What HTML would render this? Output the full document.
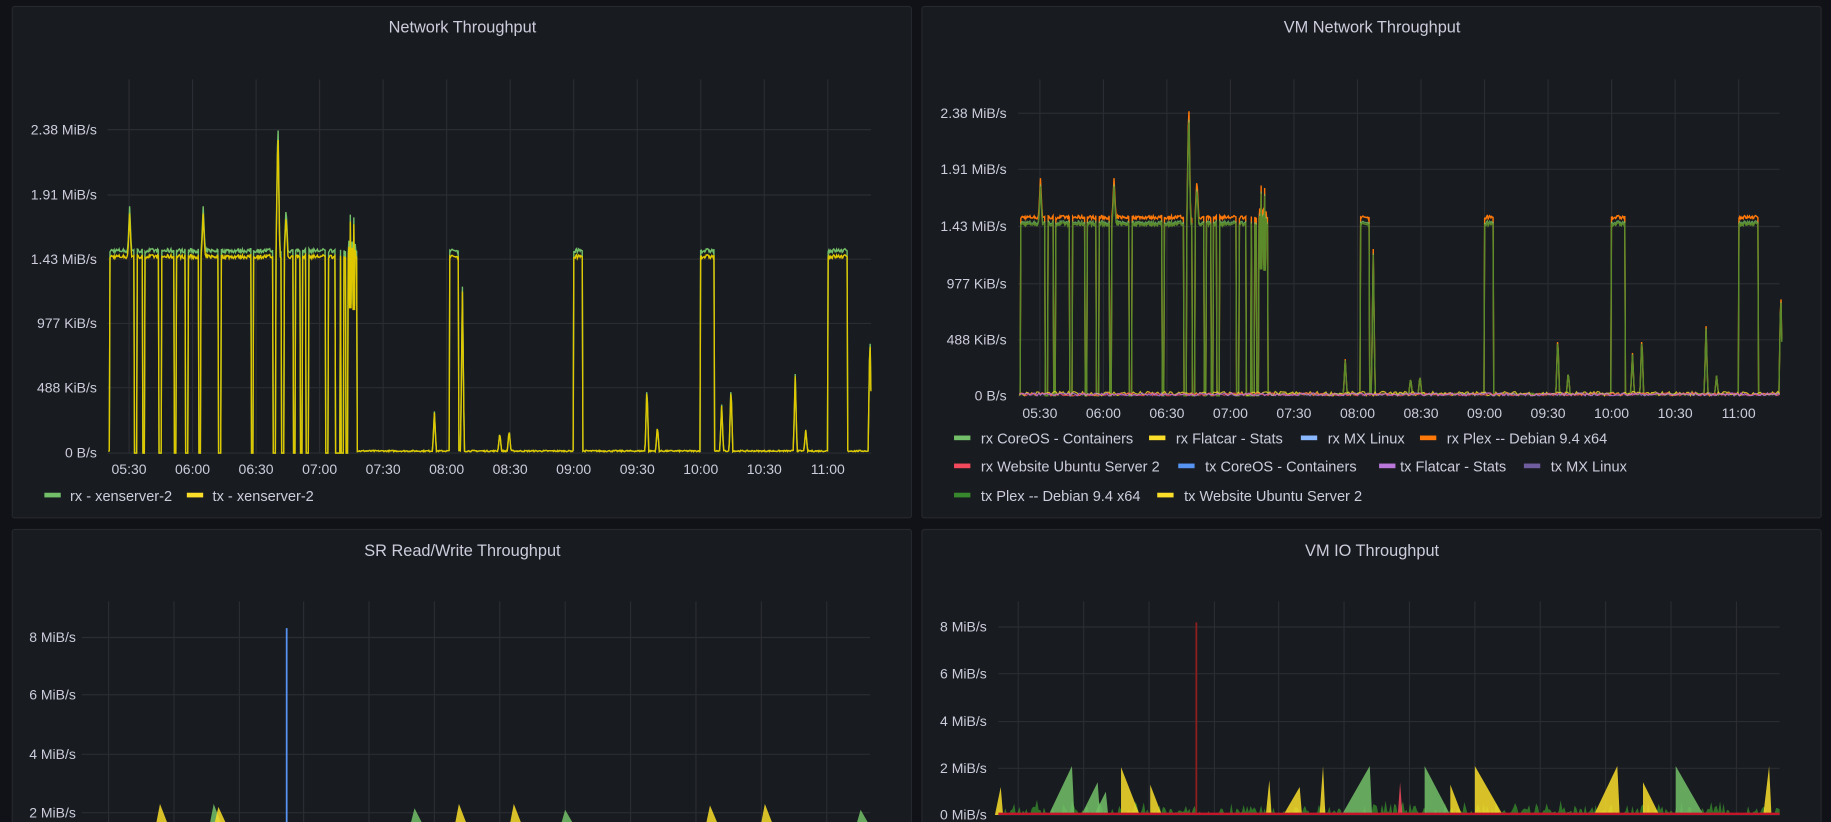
<!DOCTYPE html>
<html><head><meta charset="utf-8">
<style>
html,body{margin:0;padding:0;background:#111217;width:1831px;height:822px;overflow:hidden}
svg{display:block}
text{font-family:"Liberation Sans",sans-serif;fill:#ccccdc}
.t{font-size:14px;font-weight:500;text-anchor:middle}
.y{font-size:12px;text-anchor:end}
.x{font-size:12px;text-anchor:middle}
.l{font-size:12.5px}
.g{stroke:#2a2d33;stroke-width:1}
</style></head>
<body>
<svg id="s" width="1831" height="822" viewBox="0 0 1568 704" preserveAspectRatio="none" xmlns="http://www.w3.org/2000/svg">
<rect x="0" y="0" width="1568" height="704" fill="#111217"/>
<rect x="10.5" y="5.5" width="770" height="438" rx="2" fill="#181b1f" stroke="#25282e"/>
<rect x="789.5" y="5.5" width="770" height="438" rx="2" fill="#181b1f" stroke="#25282e"/>
<rect x="10.5" y="453.5" width="770" height="260" rx="2" fill="#181b1f" stroke="#25282e"/>
<rect x="789.5" y="453.5" width="770" height="260" rx="2" fill="#181b1f" stroke="#25282e"/>
<text class="t" x="396" y="28">Network Throughput</text>
<text class="t" x="1175" y="28">VM Network Throughput</text>
<text class="t" x="396" y="476">SR Read/Write Throughput</text>
<text class="t" x="1175" y="476">VM IO Throughput</text>
<g id="grid"></g>
<g id="data"></g>
<g id="labels">
<text class="y" x="83" y="115">2.38 MiB/s</text>
<text class="y" x="83" y="171">1.91 MiB/s</text>
<text class="y" x="83" y="226">1.43 MiB/s</text>
<text class="y" x="83" y="281">977 KiB/s</text>
<text class="y" x="83" y="336">488 KiB/s</text>
<text class="y" x="83" y="392">0 B/s</text>
<text class="y" x="862" y="101">2.38 MiB/s</text>
<text class="y" x="862" y="149">1.91 MiB/s</text>
<text class="y" x="862" y="198">1.43 MiB/s</text>
<text class="y" x="862" y="247">977 KiB/s</text>
<text class="y" x="862" y="295">488 KiB/s</text>
<text class="y" x="862" y="343">0 B/s</text>
<text class="y" x="65" y="550">8 MiB/s</text>
<text class="y" x="65" y="599">6 MiB/s</text>
<text class="y" x="65" y="650">4 MiB/s</text>
<text class="y" x="65" y="700">2 MiB/s</text>
<text class="y" x="845" y="541">8 MiB/s</text>
<text class="y" x="845" y="581">6 MiB/s</text>
<text class="y" x="845" y="622">4 MiB/s</text>
<text class="y" x="845" y="662">2 MiB/s</text>
<text class="y" x="845" y="702">0 MiB/s</text>
</g>
<g id="legend">
<rect x="38" y="422" width="14" height="4" fill="#73bf69"/><text class="l" x="60" y="429">rx - xenserver-2</text>
<rect x="160" y="422" width="14" height="4" fill="#fade2a"/><text class="l" x="182" y="429">tx - xenserver-2</text>
<rect x="817" y="373" width="14" height="4" fill="#73bf69"/><text class="l" x="840" y="380">rx CoreOS - Containers</text>
<rect x="984" y="373" width="14" height="4" fill="#fade2a"/><text class="l" x="1007" y="380">rx Flatcar - Stats</text>
<rect x="1114" y="373" width="14" height="4" fill="#8ab8ff"/><text class="l" x="1137" y="380">rx MX Linux</text>
<rect x="1216" y="373" width="14" height="4" fill="#ff780a"/><text class="l" x="1239" y="380">rx Plex -- Debian 9.4 x64</text>
<rect x="817" y="397" width="14" height="4" fill="#f2495c"/><text class="l" x="840" y="404">rx Website Ubuntu Server 2</text>
<rect x="1009" y="397" width="14" height="4" fill="#5794f2"/><text class="l" x="1032" y="404">tx CoreOS - Containers</text>
<rect x="1181" y="397" width="14" height="4" fill="#b877d9"/><text class="l" x="1199" y="404">tx Flatcar - Stats</text>
<rect x="1305" y="397" width="14" height="4" fill="#705da0"/><text class="l" x="1328" y="404">tx MX Linux</text>
<rect x="817" y="422" width="14" height="4" fill="#37872d"/><text class="l" x="840" y="429">tx Plex -- Debian 9.4 x64</text>
<rect x="991" y="422" width="14" height="4" fill="#fade2a"/><text class="l" x="1014" y="429">tx Website Ubuntu Server 2</text>
</g>
</svg>
<script>
(function(){
var NS="http://www.w3.org/2000/svg";
var grid=document.getElementById('grid'),data=document.getElementById('data'),lab=document.getElementById('labels');
function el(p,tag,a){var e=document.createElementNS(NS,tag);for(var k in a)e.setAttribute(k,a[k]);p.appendChild(e);return e;}
function line(x1,y1,x2,y2){el(grid,'line',{x1:x1,y1:y1,x2:x2,y2:y2,'class':'g'});}
var times=["05:30","06:00","06:30","07:00","07:30","08:00","08:30","09:00","09:30","10:00","10:30","11:00"];
// chart1
[111,167,222,277,332,388].forEach(function(y){line(92,y,746,y);});
for(var i=0;i<12;i++){var x=110.5+i*54.4;line(x,68,x,388);var t=el(lab,'text',{'class':'x',x:x,y:406});t.textContent=times[i];}
// chart2
[97,145,194,243,291,339].forEach(function(y){line(872,y,1524,y);});
for(var i=0;i<12;i++){var x=890.5+i*54.4;line(x,68,x,339);var t=el(lab,'text',{'class':'x',x:x,y:358});t.textContent=times[i];}
// chart3
[546,595,646,696].forEach(function(y){line(70,y,745,y);});
[93,149,205,260,316,372,428,484,540,596,652,708].forEach(function(x){line(x,515,x,704);});
// chart4
[537,577,618,658,698].forEach(function(y){line(855,y,1524,y);});
[872,928,984,1040,1095,1151,1207,1263,1319,1375,1431,1487].forEach(function(x){line(x,515,x,698);});

var seed=7;function r(){seed=(seed*16807)%2147483647;return (seed-1)/2147483646;}
var on=[[94,306],[385,393],[491,499],[600,612],[709,726]];
var drops=[116,123,137,150,160,171,188,216,235,242,252,258,263,280,288,290,293,297,300,303];
var spikes=[[111,1.78],[174,1.78],[238,2.45],[245,1.78],[300,1.72],[303,1.7],[396,1.2],[372,0.3],[428,0.15],[436,0.17],[554,0.5],[563,0.2],[618,0.35],[626,0.5],[681,0.57],[690,0.17],[745,0.9],[100,1.1]];
var xs=[],vs=[];
for(var x=93;x<=746;x+=0.6){
  var v=0.01+r()*0.01, isOn=false;
  on.forEach(function(o){if(x>=o[0]&&x<=o[1])isOn=true;});
  if(isOn)v=1.46+(r()-0.5)*0.03;
  drops.forEach(function(d){if(Math.abs(x-d)<1.1)v=0.0;});
  spikes.forEach(function(s){var d=Math.abs(x-s[0]);if(d<1.6){var sv=s[1]*(1-d/1.6)+v*(d/1.6);if(sv>v)v=sv;}});
  xs.push(x);vs.push(v);
}
function path(dx,y0,k,mul,add){var d='';for(var i=0;i<xs.length;i++){var v=vs[i]>0.2?vs[i]*mul+add:vs[i];d+=(i?'L':'M')+(xs[i]+dx).toFixed(1)+','+(y0-v*k).toFixed(1);}return d;}
var k1=277/2.38,k2=242/2.38;
el(data,'path',{d:path(0,388,k1,1.02,0),fill:'none',stroke:'#73bf69','stroke-width':1.2});
el(data,'path',{d:path(0,388,k1,0.99,0),fill:'none',stroke:'#e0c800','stroke-width':1.2});
el(data,'path',{d:path(780,339,k2,1.03,0),fill:'none',stroke:'#ff780a','stroke-width':1.2});
el(data,'path',{d:path(780,339,k2,1.0,0),fill:'none',stroke:'#73bf69','stroke-width':1,opacity:0.8});
el(data,'path',{d:path(780,339,k2,0.99,0),fill:'none',stroke:'#5a8a2a','stroke-width':1.2});
// baselines chart2
['#fade2a','#f2495c','#b877d9'].forEach(function(c,j){var d='';for(var x=873;x<=1524;x+=1.5){d+=(x==873?'M':'L')+x+','+(339-r()*2.5*(j==0?1.5:1)).toFixed(1);}el(data,'path',{d:d,fill:'none',stroke:c,'stroke-width':1,opacity:0.8});});
// chart3 areas
var p3=[[137,2.3,'#fade2a'],[183,2.3,'#73bf69'],[187,2.2,'#fade2a'],[355,2.15,'#73bf69'],[393,2.3,'#fade2a'],[440,2.3,'#fade2a'],[484,2.1,'#73bf69'],[608,2.25,'#fade2a'],[655,2.3,'#fade2a'],[737,2.1,'#73bf69']];
p3.forEach(function(p){var y=746-p[1]*25;el(data,'polygon',{points:(p[0]-3)+',704 '+p[0]+','+y+' '+(p[0]+6)+',704',fill:p[2],opacity:0.85});});
el(data,'line',{x1:245.5,y1:538,x2:245.5,y2:704,stroke:'#5794f2','stroke-width':1.5});
// chart4
var d4='M855,698';for(var x=855;x<=1524;x+=1.5){d4+='L'+x+','+(698-r()*r()*14).toFixed(1);}d4+='L1524,698Z';
el(data,'path',{d:d4,fill:'#37872d',opacity:0.8});
var p4=[[918,2.1,'#73bf69',20],[940,1.4,'#73bf69',14],[960,2.05,'#fade2a',-16],[985,1.3,'#fade2a',-10],[947,1.0,'#73bf69',10],[1087,1.5,'#fade2a',3],[1113,1.2,'#fade2a',14],[1133,2.1,'#fade2a',3],[1173,2.1,'#73bf69',24],[1220,2.1,'#73bf69',-22],[1242,1.3,'#fade2a',-10],[1263,2.1,'#fade2a',-24],[1385,2.1,'#fade2a',20],[1407,1.4,'#fade2a',-14],[1435,2.1,'#73bf69',-24],[1515,2.1,'#fade2a',5],[1199,1.4,'#f2495c',2],[857,1.2,'#fade2a',5]];
p4.forEach(function(p){var y=698-p[1]*20,w=p[3];var a=w>0?p[0]-w:p[0],b=w>0?p[0]+2:p[0]-w;el(data,'polygon',{points:a+',698 '+p[0]+','+y+' '+(w>0?p[0]+2:b)+',698',fill:p[2],opacity:0.85});});
el(data,'line',{x1:1024.5,y1:533,x2:1024.5,y2:698,stroke:'#8f1f1f','stroke-width':1.5});
el(data,'line',{x1:855,y1:697,x2:1524,y2:697,stroke:'#c4162a','stroke-width':2});
})();
</script>
</body></html>
